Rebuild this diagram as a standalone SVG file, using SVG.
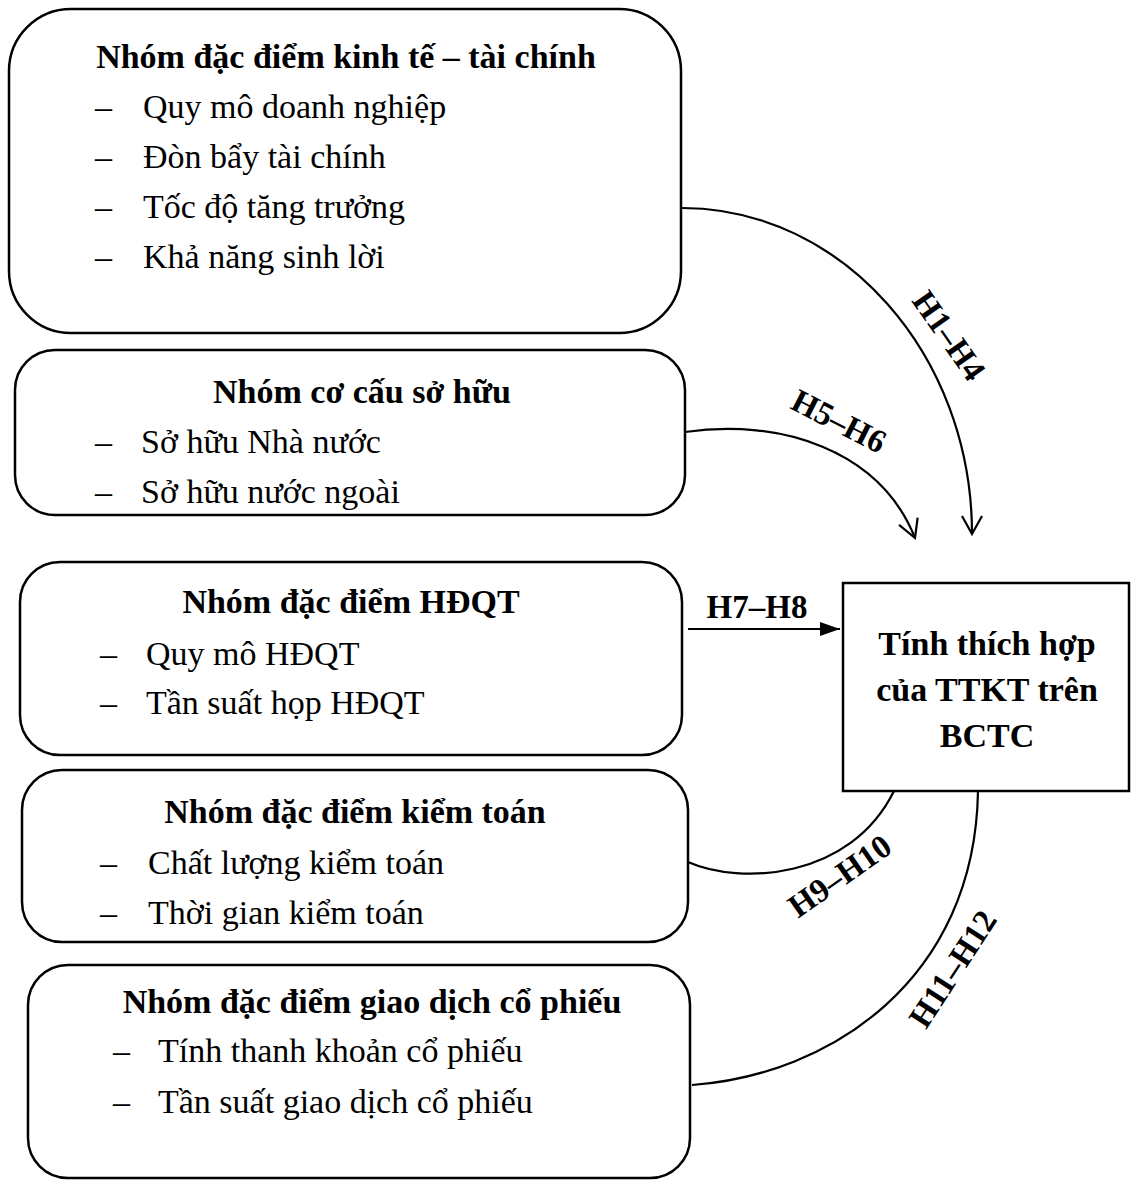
<svg xmlns="http://www.w3.org/2000/svg" width="1132" height="1181" viewBox="0 0 1132 1181">
<style>
.box{fill:#fff;stroke:#000;stroke-width:2.5}
.t{font-family:"Liberation Serif","Times New Roman",serif;font-size:34px;fill:#000}
.b{font-weight:bold}
.c{text-anchor:middle}
.con{fill:none;stroke:#000;stroke-width:2.2}
.lab{font-family:"Liberation Serif","Times New Roman",serif;font-size:33px;font-weight:bold;fill:#000;text-anchor:middle}
</style>
<defs>
<marker id="open" markerWidth="24" markerHeight="24" refX="20" refY="12" orient="auto" markerUnits="userSpaceOnUse">
<path d="M2,2 L20,12 L2,22" fill="none" stroke="#000" stroke-width="2.2"/>
</marker>
<marker id="fill" markerWidth="22" markerHeight="18" refX="20" refY="9" orient="auto" markerUnits="userSpaceOnUse">
<path d="M0,2 L20,9 L0,16 Z" fill="#000"/>
</marker>
</defs>
<g id="connectors">
<path class="con" d="M682,208 C842,208 972,354 972,534" marker-end="url(#open)"/>
<path class="con" d="M685,432 C780,418 880,450 915,538" marker-end="url(#open)"/>
<path class="con" d="M688,629 L840,629" marker-end="url(#fill)"/>
<path class="con" d="M688,862 C740,885 850,880 894,791"/>
<path class="con" d="M692,1085 C830,1075 975,980 978,791"/>
<text class="lab" transform="translate(940,342) rotate(55)">H1–H4</text>
<text class="lab" transform="translate(834,431) rotate(27)">H5–H6</text>
<text class="lab" x="757" y="618">H7–H8</text>
<text class="lab" transform="translate(846,885) rotate(-35)">H9–H10</text>
<text class="lab" transform="translate(962,975) rotate(-57)">H11–H12</text>
</g>
<g id="n1">
<rect class="box" x="9" y="9" width="672" height="324" rx="62"/>
<text class="t b c" x="346" y="68">Nhóm đặc điểm kinh tế – tài chính</text>
<text class="t" x="95" y="118">–</text><text class="t" x="143" y="118">Quy mô doanh nghiệp</text>
<text class="t" x="95" y="168">–</text><text class="t" x="143" y="168">Đòn bẩy tài chính</text>
<text class="t" x="95" y="218">–</text><text class="t" x="143" y="218">Tốc độ tăng trưởng</text>
<text class="t" x="95" y="268">–</text><text class="t" x="143" y="268">Khả năng sinh lời</text>
</g>
<g id="n2">
<rect class="box" x="15" y="350" width="670" height="165" rx="40"/>
<text class="t b c" x="362" y="403">Nhóm cơ cấu sở hữu</text>
<text class="t" x="95" y="453">–</text><text class="t" x="141" y="453">Sở hữu Nhà nước</text>
<text class="t" x="95" y="503">–</text><text class="t" x="141" y="503">Sở hữu nước ngoài</text>
</g>
<g id="n3">
<rect class="box" x="20" y="562" width="662" height="193" rx="40"/>
<text class="t b c" x="351" y="613">Nhóm đặc điểm HĐQT</text>
<text class="t" x="100" y="665">–</text><text class="t" x="146" y="665">Quy mô HĐQT</text>
<text class="t" x="100" y="714">–</text><text class="t" x="146" y="714">Tần suất họp HĐQT</text>
</g>
<g id="n4">
<rect class="box" x="22" y="770" width="666" height="172" rx="40"/>
<text class="t b c" x="355" y="823">Nhóm đặc điểm kiểm toán</text>
<text class="t" x="100" y="874">–</text><text class="t" x="148" y="874">Chất lượng kiểm toán</text>
<text class="t" x="100" y="924">–</text><text class="t" x="148" y="924">Thời gian kiểm toán</text>
</g>
<g id="n5">
<rect class="box" x="28" y="965" width="662" height="213" rx="40"/>
<text class="t b c" x="372" y="1013">Nhóm đặc điểm giao dịch cổ phiếu</text>
<text class="t" x="113" y="1062">–</text><text class="t" x="158" y="1062">Tính thanh khoản cổ phiếu</text>
<text class="t" x="113" y="1113">–</text><text class="t" x="158" y="1113">Tần suất giao dịch cổ phiếu</text>
</g>
<g id="target">
<rect class="box" x="843" y="583" width="286" height="208"/>
<text class="t b c" x="987" y="655">Tính thích hợp</text>
<text class="t b c" x="987" y="701">của TTKT trên</text>
<text class="t b c" x="987" y="747">BCTC</text>
</g>
</svg>
